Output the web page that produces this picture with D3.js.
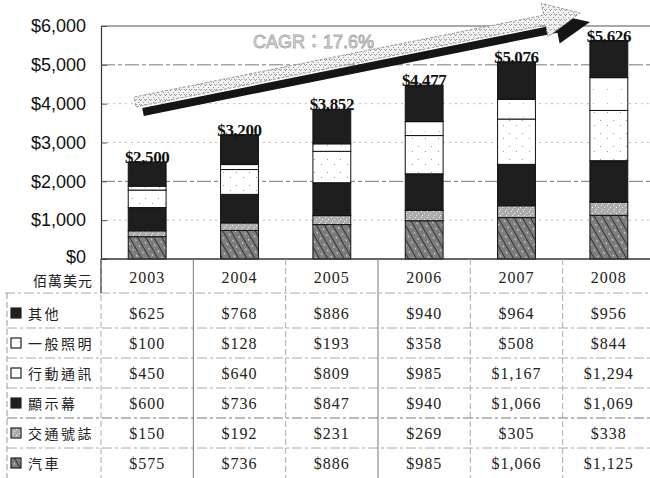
<!DOCTYPE html>
<html><head><meta charset="utf-8">
<script src="https://cdn.jsdelivr.net/npm/d3@7"></script>
<style>html,body{margin:0;padding:0;background:#fff;}svg{display:block;}</style>
</head><body>
<script>
// ---------- data ----------
const years = ["2003","2004","2005","2006","2007","2008"];
const seriesNames = ["其他","一般照明","行動通訊","顯示幕","交通號誌","汽車"]; // table order (top → bottom)
const other    = [625, 768, 886, 940, 964, 956];
const lighting = [100, 128, 193, 358, 508, 844];
const mobile   = [450, 640, 809, 985, 1167, 1294];
const display  = [600, 736, 847, 940, 1066, 1069];
const traffic  = [150, 192, 231, 269, 305, 338];
const car      = [575, 736, 886, 985, 1066, 1125];
const totals   = [2500, 3200, 3852, 4477, 5076, 5626];
const yTicks   = [0, 1000, 2000, 3000, 4000, 5000, 6000];
const unitLabel = "佰萬美元";
const cagrLabel = "CAGR：17.6%";

const seriesValues = [other, lighting, mobile, display, traffic, car];
const stackKeys = ["汽車","交通號誌","顯示幕","行動通訊","一般照明","其他"]; // bottom → top
const rows = years.map((y,i)=>{const o={year:y}; seriesNames.forEach((s,k)=>o[s]=seriesValues[k][i]); return o;});

const W=650,H=478;
const svg=d3.select("body").append("svg").attr("width",W).attr("height",H);
const defs=svg.append("defs");

function dotPattern(id,bg,dots,col,size){
  const p=defs.append("pattern").attr("id",id).attr("patternUnits","userSpaceOnUse").attr("width",size).attr("height",size);
  p.append("rect").attr("width",size).attr("height",size).attr("fill",bg);
  dots.forEach(d=>p.append("rect").attr("x",d[0]).attr("y",d[1]).attr("width",d[2]||1).attr("height",d[2]||1).attr("fill",col));
  return p;
}
{
  const p=defs.append("pattern").attr("id","pCar").attr("patternUnits","userSpaceOnUse").attr("width",7).attr("height",7).attr("patternTransform","rotate(-30)");
  p.append("rect").attr("width",7).attr("height",7).attr("fill","#7e7e7e");
  p.append("line").attr("x1",0).attr("y1",0).attr("x2",0).attr("y2",7).attr("stroke","#262626").attr("stroke-width",1.7);
  p.append("rect").attr("x",4).attr("y",2).attr("width",1).attr("height",2).attr("fill","#cfcfcf");
}
dotPattern("pTraffic","#acacac",[[1,1,1],[4,3,1],[2,5,1]],"#f0f0f0",6);
dotPattern("pMobile","#ffffff",[[2,3,1],[9,8,1]],"#9a9a9a",13);
dotPattern("pLight","#ffffff",[[5,5,1]],"#b0b0b0",14);
dotPattern("pArrow","#f2f2f2",[[0,0,1],[3,2,1],[1,4,1],[4,4,1]],"#999",5);

const fills={"其他":"#1e1e1e","一般照明":"url(#pLight)","行動通訊":"url(#pMobile)","顯示幕":"#1e1e1e","交通號誌":"url(#pTraffic)","汽車":"url(#pCar)"};

// ---------- scales ----------
const x=d3.scaleBand().domain(years).range([101,655]).paddingInner(0).paddingOuter(0);
const y=d3.scaleLinear().domain([0,6000]).range([259,26]);
const barW=x.bandwidth()*0.41;
const cx=d=>x(d)+x.bandwidth()/2;

// gridlines
const g=svg.append("g");
g.selectAll("line.grid").data(yTicks.filter(t=>t>0&&t<6000)).join("line")
  .attr("x1",101).attr("x2",W).attr("y1",d=>y(d)).attr("y2",d=>y(d))
  .attr("stroke",d=>(d===2000||d===5000)?"#777":"#bbb").attr("stroke-width",1)
  .attr("stroke-dasharray",d=>(d===2000||d===5000)?"14,3,4,3":"2,4");
g.append("line").attr("x1",101).attr("x2",W).attr("y1",y(6000)).attr("y2",y(6000)).attr("stroke","#555").attr("stroke-width",1.2);

// y axis
const yAxis=d3.axisLeft(y).tickValues(yTicks).tickSize(0).tickPadding(15).tickFormat(d=>"$"+d3.format(",")(d));
const ya=svg.append("g").attr("transform","translate(101,0)").call(yAxis);
ya.select(".domain").attr("stroke","#333").attr("stroke-width",1.2);
ya.selectAll("text").attr("font-family","'Liberation Sans',Arial,sans-serif").attr("font-size",18).attr("fill","#111");
ya.selectAll(".tick").filter(d=>d===0).select("text").attr("dy","0.2em");
ya.selectAll(".tick").append("line").attr("x1",0).attr("x2",6).attr("stroke","#555");

// bars
const stack=d3.stack().keys(stackKeys)(rows);
const layers=svg.append("g").selectAll("g").data(stack).join("g").attr("fill",d=>fills[d.key]);
layers.selectAll("rect").data(d=>d).join("rect")
  .attr("x",d=>cx(d.data.year)-barW/2).attr("width",barW)
  .attr("y",d=>y(d[1])).attr("height",d=>y(d[0])-y(d[1]))
  .attr("stroke","#111").attr("stroke-width",1);

svg.append("line").attr("x1",101).attr("x2",W).attr("y1",y(0)).attr("y2",y(0)).attr("stroke","#333").attr("stroke-width",1.4);

// total labels
svg.append("g").selectAll("text").data(years).join("text")
  .attr("x",d=>cx(d)).attr("y",(d,i)=>y(totals[i])+1)
  .attr("text-anchor","middle").attr("font-family","'Liberation Serif','Times New Roman',serif")
  .attr("font-weight","bold").attr("font-size",17).attr("fill","#111").attr("letter-spacing",-0.4)
  .text((d,i)=>"$"+d3.format(",")(totals[i]));

// CAGR arrow (annotation)
function arrowPts(x0,y0,x1,y1,hs,hl,hh){
  const L=Math.hypot(x1-x0,y1-y0),ux=(x1-x0)/L,uy=(y1-y0)/L,nx=-uy,ny=ux;
  const bx=x1-ux*hl,by=y1-uy*hl;
  return [[x0+nx*hs,y0+ny*hs],[bx+nx*hs,by+ny*hs],[bx+nx*hh,by+ny*hh],[x1,y1],[bx-nx*hh,by-ny*hh],[bx-nx*hs,by-ny*hs],[x0-nx*hs,y0-ny*hs]];
}
const line=d3.line();
svg.append("path").attr("d",line(arrowPts(143,112,590,22,4,34,15))+"Z").attr("fill","#151515");
svg.append("path").attr("d",line(arrowPts(135,102,580,13,5,36,17))+"Z").attr("fill","url(#pArrow)")
  .attr("stroke","#9a9a9a").attr("stroke-width",1).attr("stroke-dasharray","3,1.5");
svg.append("text").attr("x",253).attr("y",48).attr("font-family","'Liberation Sans','Noto Sans CJK TC',sans-serif")
  .attr("font-size",18).attr("fill","#f2f2f2").attr("stroke","#a8a8a8").attr("stroke-width",0.9).text(cagrLabel);

// ---------- table ----------
const tb=svg.append("g");
const rowY=d3.scaleBand().domain(seriesNames).range([298,478]);
const rc=n=>rowY(n)+rowY.bandwidth()/2;
const colBounds=[101].concat(years.map(yr=>x(yr)+x.bandwidth())).filter(v=>v<W);
const hLines=[293].concat(seriesNames.slice(1).map(n=>rowY(n)));
tb.selectAll("line.h").data(hLines).join("line")
  .attr("x1",(d,i)=>i===0?5:7).attr("x2",W).attr("y1",d=>d).attr("y2",d=>d)
  .attr("stroke",(d,i)=>i===4?"#777":"#aaa").attr("stroke-width",1).attr("stroke-dasharray","10,3,3,3");
tb.selectAll("line.v").data(colBounds).join("line")
  .attr("x1",d=>d).attr("x2",d=>d).attr("y1",259).attr("y2",H)
  .attr("stroke",(d,i)=>(i===1||i===3)?"#777":"#aaa").attr("stroke-width",1)
  .attr("stroke-dasharray",(d,i)=>(i===1||i===3)?null:"6,3");
tb.append("line").attr("x1",101).attr("x2",101).attr("y1",259).attr("y2",293).attr("stroke","#444").attr("stroke-width",1.2);
tb.append("line").attr("x1",7).attr("x2",7).attr("y1",293).attr("y2",H).attr("stroke","#999").attr("stroke-dasharray","6,3");

const serif="'Liberation Serif','Times New Roman',serif";
const cjk="'Noto Sans CJK TC','Noto Sans CJK SC',sans-serif";
tb.append("text").attr("x",33).attr("y",280).attr("dominant-baseline","central")
  .attr("font-family",cjk).attr("font-size",14).attr("letter-spacing",1).attr("fill","#222").text(unitLabel);
tb.selectAll("text.yr").data(years).join("text").attr("class","yr")
  .attr("x",d=>cx(d)).attr("y",277).attr("dominant-baseline","central").attr("text-anchor","middle")
  .attr("font-family",serif).attr("font-size",16).attr("letter-spacing",1).attr("fill","#222").text(d=>d);
const sw=tb.selectAll("g.row").data(seriesNames).join("g").attr("class","row");
sw.append("rect").attr("x",11).attr("y",n=>rc(n)-5).attr("width",10).attr("height",10)
  .attr("fill",n=>fills[n]).attr("stroke","#222").attr("stroke-width",1.2);
sw.append("text").attr("x",28).attr("y",n=>rc(n)).attr("dominant-baseline","central")
  .attr("font-family",cjk).attr("font-size",14).attr("letter-spacing",2.5).attr("fill","#222").text(n=>n);
seriesNames.forEach((n,k)=>{
  tb.append("g").selectAll("text").data(years).join("text")
    .attr("x",d=>cx(d)).attr("y",rc(n)).attr("dominant-baseline","central").attr("text-anchor","middle")
    .attr("font-family",serif).attr("font-size",16).attr("letter-spacing",1).attr("fill","#222")
    .text((d,i)=>"$"+d3.format(",")(seriesValues[k][i]));
});
</script>
</body></html>
